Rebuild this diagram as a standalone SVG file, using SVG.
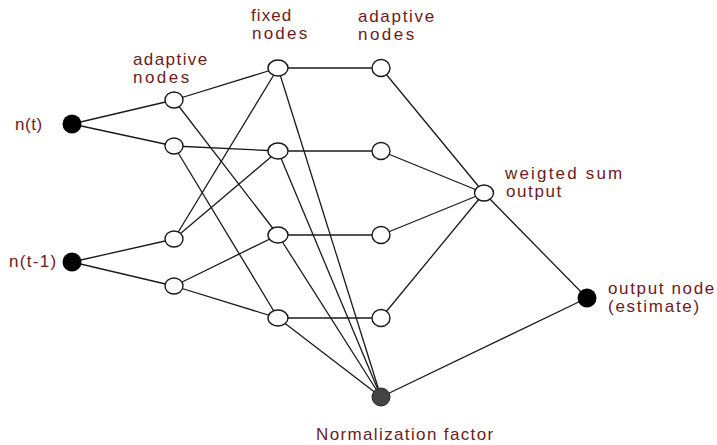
<svg xmlns="http://www.w3.org/2000/svg" width="717" height="445" viewBox="0 0 717 445">
<style>
.e{stroke:#1a1a1a;stroke-width:1.3;fill:none}
.o{fill:#fff;stroke:#1a1a1a;stroke-width:1.4}
.b{fill:#000}
.g{fill:#444;stroke:#222;stroke-width:1}
text{font-family:"Liberation Sans",Arial,sans-serif;font-size:17px;fill:#6b1c1c;letter-spacing:0.8px}
</style>
<rect width="717" height="445" fill="#fff"/>
<g id="connectors">
<line class="e" x1="72" y1="124" x2="174" y2="100"/>
<line class="e" x1="72" y1="124" x2="174" y2="146"/>
<line class="e" x1="72" y1="262" x2="174" y2="239"/>
<line class="e" x1="72" y1="262" x2="174" y2="286"/>
<line class="e" x1="174" y1="100" x2="278" y2="68"/>
<line class="e" x1="174" y1="100" x2="278" y2="235"/>
<line class="e" x1="174" y1="146" x2="278" y2="151"/>
<line class="e" x1="174" y1="146" x2="278" y2="318"/>
<line class="e" x1="174" y1="239" x2="278" y2="68"/>
<line class="e" x1="174" y1="239" x2="278" y2="151"/>
<line class="e" x1="174" y1="286" x2="278" y2="235"/>
<line class="e" x1="174" y1="286" x2="278" y2="318"/>
<line class="e" x1="278" y1="68" x2="381" y2="68"/>
<line class="e" x1="278" y1="151" x2="381" y2="151"/>
<line class="e" x1="278" y1="235" x2="381" y2="235"/>
<line class="e" x1="278" y1="318" x2="381" y2="318"/>
<line class="e" x1="278" y1="68" x2="381" y2="397"/>
<line class="e" x1="278" y1="151" x2="381" y2="397"/>
<line class="e" x1="278" y1="235" x2="381" y2="397"/>
<line class="e" x1="278" y1="318" x2="381" y2="397"/>
<line class="e" x1="381" y1="68" x2="484" y2="193"/>
<line class="e" x1="381" y1="151" x2="484" y2="193"/>
<line class="e" x1="381" y1="235" x2="484" y2="193"/>
<line class="e" x1="381" y1="318" x2="484" y2="193"/>
<line class="e" x1="484" y1="193" x2="587" y2="298"/>
<line class="e" x1="381" y1="397" x2="587" y2="298"/>
</g>
<g id="in1"><circle class="b" cx="72" cy="124" r="9.5"/><text x="15" y="130" textLength="28">n(t)</text></g>
<g id="in2"><circle class="b" cx="72" cy="262" r="9.5"/><text x="9" y="267" textLength="48">n(t-1)</text></g>
<g id="a1"><ellipse class="o" cx="174" cy="100" rx="9" ry="8"/></g>
<g id="a2"><ellipse class="o" cx="174" cy="146" rx="9" ry="8"/></g>
<g id="a3"><ellipse class="o" cx="174" cy="239" rx="9" ry="8"/></g>
<g id="a4"><ellipse class="o" cx="174" cy="286" rx="9" ry="8"/></g>
<g id="f1"><ellipse class="o" cx="278" cy="68" rx="10" ry="8"/></g>
<g id="f2"><ellipse class="o" cx="278" cy="151" rx="10" ry="8"/></g>
<g id="f3"><ellipse class="o" cx="278" cy="235" rx="10" ry="8"/></g>
<g id="f4"><ellipse class="o" cx="278" cy="318" rx="10" ry="8"/></g>
<g id="b1"><ellipse class="o" cx="381" cy="68" rx="9" ry="8.5"/></g>
<g id="b2"><ellipse class="o" cx="381" cy="151" rx="9" ry="8.5"/></g>
<g id="b3"><ellipse class="o" cx="381" cy="235" rx="9" ry="8.5"/></g>
<g id="b4"><ellipse class="o" cx="381" cy="318" rx="9" ry="8.5"/></g>
<g id="wsum"><ellipse class="o" cx="484" cy="193" rx="9.5" ry="8"/><text x="505" y="179" textLength="118">weigted sum</text><text x="506" y="197" textLength="56">output</text></g>
<g id="out"><circle class="b" cx="587" cy="298" r="9.5"/><text x="608" y="294" textLength="107">output node</text><text x="608" y="312" textLength="92">(estimate)</text></g>
<g id="norm"><circle class="g" cx="381" cy="397" r="9"/><text x="316" y="440" textLength="178">Normalization factor</text></g>
<g id="lbl-adapt1"><text x="133" y="65" textLength="75">adaptive</text><text x="133" y="83" textLength="57">nodes</text></g>
<g id="lbl-fixed"><text x="251" y="21" textLength="41">fixed</text><text x="252" y="39" textLength="56">nodes</text></g>
<g id="lbl-adapt2"><text x="358" y="22" textLength="77">adaptive</text><text x="358" y="40" textLength="57">nodes</text></g>
</svg>
